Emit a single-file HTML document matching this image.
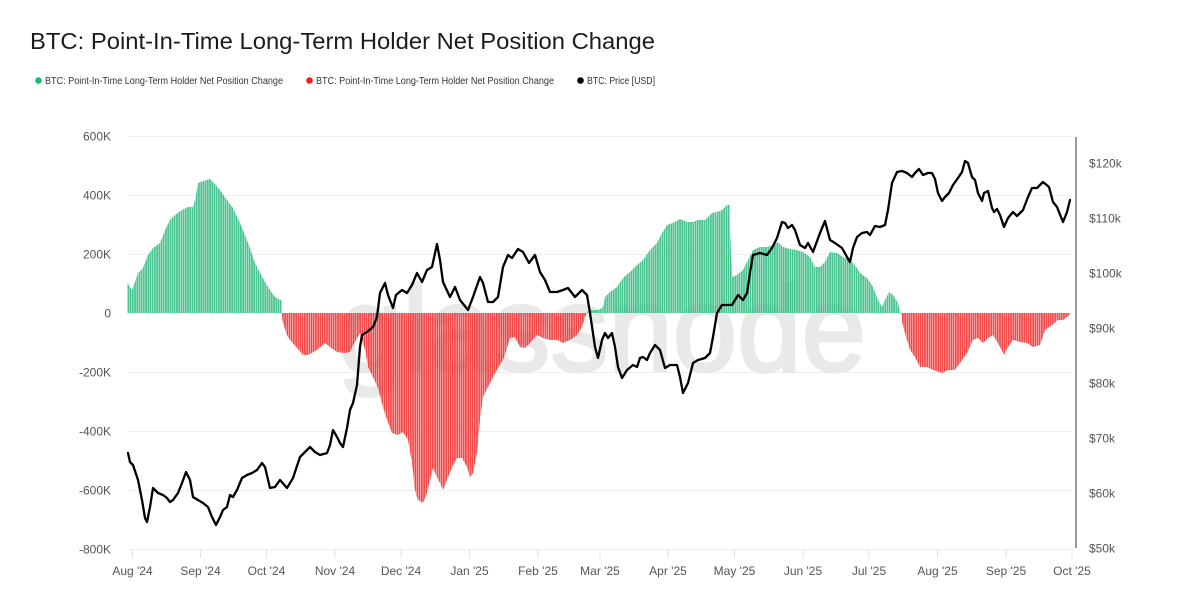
<!DOCTYPE html>
<html>
<head>
<meta charset="utf-8">
<style>
  html, body { margin:0; padding:0; background:#ffffff; }
  body { width:1200px; height:603px; overflow:hidden; }
  svg { display:block; }
  text { font-family: "Liberation Sans", "DejaVu Sans", sans-serif; }
</style>
</head>
<body>
<svg width="1200" height="603" viewBox="0 0 1200 603" xmlns="http://www.w3.org/2000/svg">
  <defs>
    <pattern id="pg" patternUnits="userSpaceOnUse" x="127.5" y="0" width="2.2066" height="603">
      <rect x="0" y="0" width="1.75" height="603" fill="#34bd83" fill-opacity="0.9"/>
    </pattern>
    <pattern id="pr" patternUnits="userSpaceOnUse" x="127.5" y="0" width="2.2066" height="603">
      <rect x="0" y="0" width="1.75" height="603" fill="#f03434" fill-opacity="0.9"/>
    </pattern>
  </defs>

  <rect x="0" y="0" width="1200" height="603" fill="#ffffff"/>

  <!-- Title -->
  <text x="30" y="49" font-size="23" fill="#1c1c1c" textLength="625" lengthAdjust="spacingAndGlyphs">BTC: Point-In-Time Long-Term Holder Net Position Change</text>

  <!-- Legend -->
  <circle cx="38.5" cy="80.5" r="3.3" fill="#20b673"/>
  <text x="45" y="84" font-size="10" fill="#333" textLength="238" lengthAdjust="spacingAndGlyphs">BTC: Point-In-Time Long-Term Holder Net Position Change</text>
  <circle cx="309.5" cy="80.5" r="3.3" fill="#ee2222"/>
  <text x="316" y="84" font-size="10" fill="#333" textLength="238" lengthAdjust="spacingAndGlyphs">BTC: Point-In-Time Long-Term Holder Net Position Change</text>
  <circle cx="580.5" cy="80.5" r="3.3" fill="#000000"/>
  <text x="587" y="84" font-size="10" fill="#333" textLength="68" lengthAdjust="spacingAndGlyphs">BTC: Price [USD]</text>

  <!-- Gridlines -->
  <g stroke="#efefef" stroke-width="1">
    <line x1="128" y1="136.5" x2="1072" y2="136.5"/>
    <line x1="128" y1="195.5" x2="1072" y2="195.5"/>
    <line x1="128" y1="254.5" x2="1072" y2="254.5"/>
    <line x1="128" y1="313.5" x2="1072" y2="313.5"/>
    <line x1="128" y1="372.5" x2="1072" y2="372.5"/>
    <line x1="128" y1="431.5" x2="1072" y2="431.5"/>
    <line x1="128" y1="490.5" x2="1072" y2="490.5"/>
    <line x1="128" y1="549.5" x2="1072" y2="549.5"/>
  </g>
  <!-- X ticks -->
  <g stroke="#e2e2e2" stroke-width="1">
    <line x1="132.5" y1="549" x2="132.5" y2="558"/>
    <line x1="200.5" y1="549" x2="200.5" y2="558"/>
    <line x1="266.5" y1="549" x2="266.5" y2="558"/>
    <line x1="335" y1="549" x2="335" y2="558"/>
    <line x1="401" y1="549" x2="401" y2="558"/>
    <line x1="469.5" y1="549" x2="469.5" y2="558"/>
    <line x1="538" y1="549" x2="538" y2="558"/>
    <line x1="600" y1="549" x2="600" y2="558"/>
    <line x1="668" y1="549" x2="668" y2="558"/>
    <line x1="734.5" y1="549" x2="734.5" y2="558"/>
    <line x1="803" y1="549" x2="803" y2="558"/>
    <line x1="869" y1="549" x2="869" y2="558"/>
    <line x1="937.5" y1="549" x2="937.5" y2="558"/>
    <line x1="1006" y1="549" x2="1006" y2="558"/>
    <line x1="1072" y1="549" x2="1072" y2="558"/>
  </g>

  <!-- Watermark -->
  <text x="338" y="371" font-size="122" fill="#e9e9e9" stroke="#e9e9e9" stroke-width="3" textLength="528" lengthAdjust="spacingAndGlyphs">glassnode</text>

  <!-- Green area 1 -->
  <polygon fill="url(#pg)" points="127.5,313 127.5,283 130,287 132,290 135,282 138,273 143,268 148,255 153,248 160,243 165,230 170,220 175,215 182,210 188,207 193,207 195,200 198,183 203,181 210,179 213,182 220,190 227,200 233,208 240,223 245,235 250,248 255,263 260,273 265,282 270,290 275,297 280,300 281.5,300 281.5,313"/>
  <!-- Red area 1 -->
  <polygon fill="url(#pr)" points="281.5,313 282,317 283,323 287,335 290,340 297,348 303,355 308,355 317,350 325,343 330,347 337,352 345,353 350,352 355,342 360,333 365,350 368,367 373,377 378,388 383,407 387,420 392,433 398,435 403,432 408,440 412,463 415,490 418,500 423,503 427,493 430,480 433,468 437,477 440,483 443,490 447,480 452,467 457,458 462,458 467,467 470,477 473,473 477,453 480,420 483,397 488,387 493,377 498,368 503,360 507,348 510,338 515,337 520,347 525,348 530,343 537,335 543,338 550,340 557,340 563,343 570,340 577,335 582,327 585,317 587,313"/>
  <!-- Green area 2 -->
  <polygon fill="url(#pg)" points="587,313 588,310 598,310 600,309 603,307 605,297 610,292 617,287 623,278 630,272 637,265 643,260 650,250 657,243 662,233 667,225 673,223 680,219 687,222 693,222 698,220 705,220 712,213 717,212 722,210 727,205 729.5,205 730,228 732,277 737,275 743,270 748,260 753,250 760,247 767,247 773,245 778,242 783,247 790,249 797,250 803,252 810,257 815,267 820,267 825,262 830,252 837,253 843,257 850,260 857,268 860,273 867,278 873,287 878,300 882,307 885,300 889,292 893,295 898,303 900,312 901,313"/>
  <!-- Red area 2 -->
  <polygon fill="url(#pr)" points="901,313 902,322 905,333 910,350 915,357 920,367 927,367 933,370 942,373 948,370 955,370 960,363 967,353 973,340 978,338 983,343 988,338 993,335 1000,347 1004,355 1008,347 1013,340 1020,342 1027,343 1033,347 1040,345 1045,330 1052,325 1058,320 1063,320 1069.5,315 1069.5,313"/>

  <!-- Price line -->
  <polyline fill="none" stroke="#000" stroke-width="2.3" stroke-linejoin="round" stroke-linecap="round" points="128,453 130,462 133,465 138,480 142,500 145,518 147,522 150,507 153,488 158,493 163,495 167,498 170,502 173,500 178,493 182,483 186,472 190,480 193,497 198,500 203,503 208,507 212,517 216,525 220,517 223,510 227,507 230,495 233,497 237,490 242,478 247,475 252,473 257,470 262,463 265,467 270,488 275,487 280,480 287,488 293,478 300,457 305,452 310,447 315,452 320,455 327,453 330,445 333,430 337,437 340,443 343,447 347,428 350,410 353,403 357,385 360,347 362,335 367,332 373,327 377,317 380,293 385,283 388,295 393,308 396,295 402,290 407,293 412,285 417,273 422,282 427,270 432,267 437,244 440,260 443,282 450,297 455,287 460,300 468,310 473,297 480,277 483,283 488,302 493,302 498,297 503,267 508,255 512,258 518,249 523,252 529,263 535,255 540,272 545,280 550,292 557,292 563,290 568,288 575,297 582,290 587,295 590,313 595,347 598,358 602,340 605,333 608,338 612,333 615,347 618,367 622,378 627,370 633,365 637,367 640,358 643,357 647,360 650,353 655,345 660,350 665,368 670,365 677,365 680,377 683,393 688,383 693,363 698,360 705,358 710,353 713,337 717,313 722,305 732,305 735,300 738,295 743,300 747,293 750,273 753,255 760,253 767,255 772,248 777,238 782,222 785,223 788,228 792,225 795,230 800,245 805,248 808,243 813,252 820,233 825,221 830,240 835,243 842,248 847,257 850,262 853,248 857,237 862,233 867,232 870,235 875,226 880,227 885,225 888,210 892,183 897,172 902,171 907,173 912,177 915,173 919,169 923,175 928,173 932,173 935,179 938,193 942,201 945,197 949,193 953,185 958,178 962,172 965,161 968,163 972,177 975,180 978,193 982,201 984,193 988,191 992,208 994,212 997,209 1000,215 1004,227 1008,218 1013,212 1017,216 1023,210 1028,197 1032,188 1037,188 1043,182 1049,187 1053,202 1057,207 1063,222 1067,212 1070,200"/>

  <!-- Right axis line -->
  <line x1="1076" y1="137" x2="1076" y2="548" stroke="#7a7a7a" stroke-width="1.5"/>

  <!-- Left axis labels -->
  <g font-size="12" fill="#555" text-anchor="end">
    <text x="111" y="140.5">600K</text>
    <text x="111" y="199.5">400K</text>
    <text x="111" y="258.5">200K</text>
    <text x="111" y="317.5">0</text>
    <text x="111" y="376.5">-200K</text>
    <text x="111" y="435.5">-400K</text>
    <text x="111" y="494.5">-600K</text>
    <text x="111" y="553.5">-800K</text>
  </g>

  <!-- Right axis labels -->
  <g font-size="12" fill="#555">
    <text x="1089" y="167.5">$120k</text>
    <text x="1089" y="222.5">$110k</text>
    <text x="1089" y="277.5">$100k</text>
    <text x="1089" y="332.5">$90k</text>
    <text x="1089" y="387.5">$80k</text>
    <text x="1089" y="442.5">$70k</text>
    <text x="1089" y="497.5">$60k</text>
    <text x="1089" y="552.5">$50k</text>
  </g>

  <!-- X axis labels -->
  <g font-size="12" fill="#555" text-anchor="middle">
    <text x="132.5" y="575">Aug '24</text>
    <text x="200.5" y="575">Sep '24</text>
    <text x="266.5" y="575">Oct '24</text>
    <text x="335" y="575">Nov '24</text>
    <text x="401" y="575">Dec '24</text>
    <text x="469.5" y="575">Jan '25</text>
    <text x="538" y="575">Feb '25</text>
    <text x="600" y="575">Mar '25</text>
    <text x="668" y="575">Apr '25</text>
    <text x="734.5" y="575">May '25</text>
    <text x="803" y="575">Jun '25</text>
    <text x="869" y="575">Jul '25</text>
    <text x="937.5" y="575">Aug '25</text>
    <text x="1006" y="575">Sep '25</text>
    <text x="1072" y="575">Oct '25</text>
  </g>
</svg>
</body>
</html>
